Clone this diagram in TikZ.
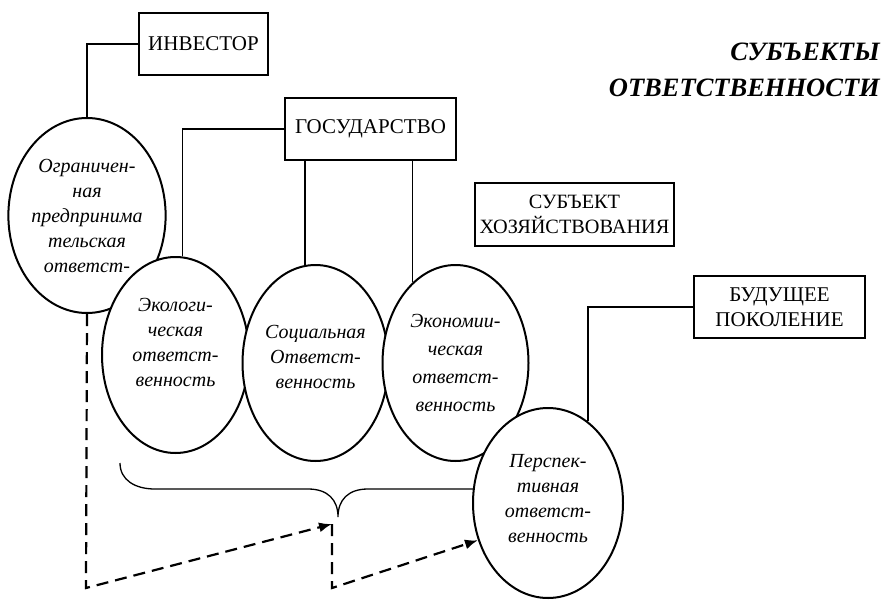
\documentclass[tikz,border=0pt]{standalone}
\usepackage{fontspec}
\setmainfont{Liberation Serif}
\usetikzlibrary{positioning,shapes.geometric,arrows.meta}

\begin{document}
\begin{tikzpicture}[x=1pt, y=-1pt, node distance=140pt,
>={Latex[length=13pt,width=10pt]},
box node/.style={rectangle,draw,line width=1.6pt,inner sep=0pt,align=center,font=\fontsize{21}{25}\selectfont},
resp node/.style={ellipse,draw,fill=white,line width=2pt,inner sep=0pt,minimum width=146pt,minimum height=196pt,align=center,font=\fontsize{20}{25}\selectfont\itshape},
link/.style={line width=1.6pt},
dash link/.style={line width=2.2pt,dash pattern=on 12pt off 7pt,->}]

\useasboundingbox (0,0) rectangle (886,605);

\node[anchor=north east,inner sep=0pt,align=right,font=\fontsize{26.5}{36}\selectfont\bfseries\itshape] (title) at (880,43) {СУБЪЕКТЫ\\ОТВЕТСТВЕННОСТИ};

\node[box node, minimum width=129pt, minimum height=62pt] (inv) at (203.5,44) {ИНВЕСТОР};
\node[box node, minimum width=171pt, minimum height=62pt] (gov) at (370.5,129) {ГОСУДАРСТВО};
\node[box node, minimum width=199pt, minimum height=63pt, font=\fontsize{20.3}{25}\selectfont] (firm) at (574.5,214.5) {СУБЪЕКТ\\ХОЗЯЙСТВОВАНИЯ};
\node[box node, minimum width=171pt, minimum height=62pt] (future) at (779.5,307) {БУДУЩЕЕ\\ПОКОЛЕНИЕ};

\node[resp node, minimum width=150pt, minimum height=195pt] (lim) at (87,215.5) {Ограничен-\\ная\\предпринима\\тельская\\ответст-};
\node[resp node, minimum width=147pt] (eco) at (175.5,355) {Экологи-\\ческая\\ответст-\\венность\\\mbox{}};
\node[resp node] (soc) [right of=eco, yshift=-8pt] {Социальная\\Ответст-\\венность\\[-13pt]\mbox{}};
\node[resp node, font=\fontsize{20}{28}\selectfont\itshape] (ecn) [right of=soc] {Экономии-\\ческая\\ответст-\\венность};

\draw[link] (inv.west) -| (lim.north);
\draw[link] (gov.west) -| (eco.86);
\draw[link] (soc.96 |- gov.south) -- (soc.96);
\draw[link] (ecn.118 |- gov.south) -- (ecn.118);

% brace under the three kinds
\draw[line width=1.3pt] (120,463) .. controls (120,480) and (135,489) .. (155,489) -- (308,489)
  .. controls (328,489) and (338,500) .. (338,517) .. controls (338,500) and (348,489) .. (368,489)
  -- (526,489) .. controls (546,489) and (556,480) .. (556,463);

\node[resp node, minimum width=150pt, minimum height=190pt] (per) at (548,503) {Перспек-\\тивная\\ответст-\\венность\\[-15pt]\mbox{}};
\draw[link] (future.west) -| (per.64);

\coordinate (a1) at (332,524);
\coordinate (d1) at (86,588);
\draw[dash link] (lim.south) -- (d1) -- (a1);
\draw[dash link] (a1) -- (a1 |- d1) -- (per.208);
\end{tikzpicture}
\end{document}
